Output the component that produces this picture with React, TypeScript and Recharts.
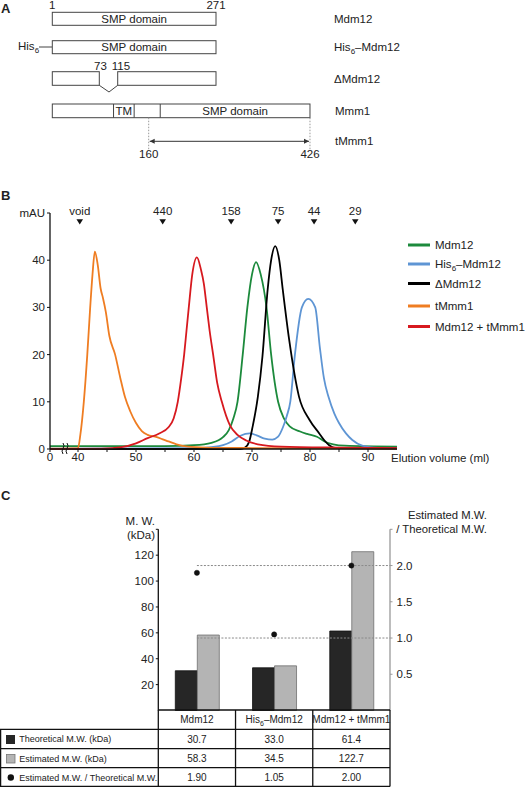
import React from "react";
import {
  LineChart,
  Line,
  XAxis,
  YAxis,
  ReferenceDot,
  ComposedChart,
  Bar,
  ReferenceLine,
} from "recharts";

const FONT = '"Liberation Sans", Arial, Helvetica, sans-serif';
const INK = "#222";

// ---------- B: gel filtration profiles (elution volume in ml, absorbance in mAU) ----------
const mdm12Ml = [0, 40, 55, 60, 63, 65, 66, 66.8, 67.5, 68.4, 69.2, 70, 70.7, 71.5, 72.5, 73.3, 74.5, 75.5, 76.5, 78.3, 79.5, 81.2, 82.5, 84, 86, 95];
const mdm12Au = [0.6, 0.6, 0.6, 0.8, 1.3, 2.5, 4, 6.5, 10, 20, 30, 37, 39.6, 37, 30, 20, 10, 6.5, 4.8, 3.7, 3.2, 2.6, 1.6, 1, 0.7, 0.5];

const hisMl = [0, 40, 60, 63, 65, 66.5, 68, 69.6, 70.8, 72.2, 73.5, 74.5, 75.3, 76, 76.6, 77.4, 78.6, 79.7, 80.9, 81.7, 82.4, 83.2, 84.2, 85, 86.2, 87.3, 89, 91, 95];
const hisAu = [0.1, 0.1, 0.2, 0.4, 0.8, 1.6, 2.8, 3.3, 2.9, 2.2, 2.0, 2.6, 4.5, 7, 10, 20, 30, 31.8, 30, 21.5, 15, 11, 7.5, 5.5, 3.3, 1.9, 0.7, 0.3, 0.2];

const deltaMl = [0, 68, 68.8, 69.5, 70.1, 71, 71.8, 72.7, 73.3, 74, 74.7, 75.3, 76.4, 78.1, 79.9, 81.6, 82.5, 83.3, 84.5, 95];
const deltaAu = [0, 0, 0.3, 1.5, 4.7, 11, 19.6, 33.8, 40, 43, 40, 33.8, 23.2, 11.1, 6.2, 3.3, 1.8, 0.8, 0.2, 0.1];

const tmmm1Ml = [0, 40, 40.4, 41, 41.6, 42.1, 42.5, 42.9, 43.4, 43.9, 44.3, 44.8, 45.4, 46.4, 47.3, 48.1, 49, 50, 51, 52, 53.3, 54.5, 55.6, 57, 59, 62, 70, 95];
const tmmm1Au = [0.1, 0.2, 3, 10, 20, 30, 37, 41.8, 39, 34, 32, 29, 24, 20, 15, 11, 8, 5.5, 3.8, 3, 2.6, 2.1, 1.6, 1, 0.5, 0.3, 0.2, 0.1];

const complexMl = [0, 44, 47.5, 50, 52, 54, 55.6, 56.5, 57.2, 57.8, 58.3, 58.7, 59.1, 59.7, 60.5, 61.2, 61.7, 62.2, 62.7, 63.3, 64, 64.8, 66.2, 67.5, 69, 71, 75, 85, 95];
const complexAu = [0, 0.1, 0.4, 1.2, 2.3, 3.3, 4.6, 6.5, 10, 15, 20, 25, 30, 37, 40.6, 38, 35, 30, 25, 20, 14, 10, 5, 3, 1.8, 1, 0.5, 0.3, 0.2];

const markerMl = [40.3, 54.6, 66.4, 74.5, 80.7, 87.8];
const markerLabels = ["void", "440", "158", "75", "44", "29"];

// the axis is broken between 0 and 40 ml
const X0 = 35.17;
const brk = (ml: number) => (ml >= 40 ? ml : 40 - ((40 - ml) * (40 - X0)) / 40);
const pts = (ml: number[], au: number[]) => ml.map((m, i) => ({ x: brk(m), y: au[i] }));

const series = [
  { name: "Mdm12", color: "#1c8a3c", data: pts(mdm12Ml, mdm12Au) },
  { name: "His6-Mdm12", color: "#5e95d4", data: pts(hisMl, hisAu) },
  { name: "ΔMdm12", color: "#000000", data: pts(deltaMl, deltaAu) },
  { name: "tMmm1", color: "#ef7d22", data: pts(tmmm1Ml, tmmm1Au) },
  { name: "Mdm12 + tMmm1", color: "#d7191f", data: pts(complexMl, complexAu) },
];

const xTicks = [X0, 40, 45, 50, 55, 60, 65, 70, 75, 80, 85, 90];
const yTicks = [0, 10, 20, 30, 40, 50];

// ---------- C: molecular weights ----------
const samples = ["Mdm12", "His6-Mdm12", "Mdm12 + tMmm1"];
const theoretical = [30.7, 33.0, 61.4];
const estimated = [58.3, 34.5, 122.7];
const ratio = [1.9, 1.05, 2.0];
const mwTicks = [20, 40, 60, 80, 100, 120, 140];
const ratioTicks = [0.5, 1.0, 1.5, 2.0, 2.5];
const ratioGuides = [1, 2];

const rows = samples.map((s, i) => ({ name: s, theo: theoretical[i], est: estimated[i], ratio: ratio[i] }));

const DARK = "#262626";
const LIGHT = "#b4b4b4";

const His6 = ({ rest }: { rest: string }) => (
  <>
    <tspan>His</tspan>
    <tspan fontSize="70%" dy={3}>6</tspan>
    <tspan dy={-3}>{rest}</tspan>
  </>
);

const label = (name: string) =>
  name.startsWith("His6") ? <His6 rest={name.slice(4).replace("-", "–")} /> : name;

// ---------- A: domain schematic ----------
const res = (r: number) => 52.3 + (r - 1) * 0.6063;

function PanelA() {
  const box = { fill: "#fff", stroke: "#444", strokeWidth: 1 };
  const t = { fontSize: 11.5, fill: INK };
  return (
    <svg width={531} height={175} style={{ position: "absolute", left: 0, top: 0 }}>
      <text x={1} y={13} fontSize={13} fontWeight="bold" fill={INK}>A</text>
      {/* Mdm12 */}
      <text x={res(1)} y={8.5} textAnchor="middle" {...t}>1</text>
      <text x={res(271)} y={8.5} textAnchor="middle" {...t}>271</text>
      <rect x={res(1)} y={12.3} width={res(271) - res(1)} height={13} {...box} />
      <text x={(res(1) + res(271)) / 2} y={22.8} textAnchor="middle" {...t}>SMP domain</text>
      <text x={334} y={22.8} {...t}>Mdm12</text>
      {/* His6-Mdm12 */}
      <line x1={39} x2={res(1)} y1={47} y2={47} stroke="#444" />
      <text x={18} y={50} {...t}><tspan>His</tspan><tspan fontSize={8} dy={3}>6</tspan></text>
      <rect x={res(1)} y={40.7} width={res(271) - res(1)} height={13} {...box} />
      <text x={(res(1) + res(271)) / 2} y={51.2} textAnchor="middle" {...t}>SMP domain</text>
      <text x={334} y={51.2} {...t}><His6 rest="–Mdm12" /></text>
      {/* ΔMdm12 */}
      <text x={100.5} y={70} textAnchor="middle" {...t}>73</text>
      <text x={121} y={70} textAnchor="middle" {...t}>115</text>
      <rect x={res(1)} y={71.7} width={99.3 - res(1)} height={13.6} {...box} />
      <rect x={117.7} y={71.7} width={res(271) - 117.7} height={13.6} {...box} />
      <polyline points="99.3,85.3 109,92 117.7,85.3" fill="none" stroke="#444" />
      <text x={334} y={82.5} {...t}>ΔMdm12</text>
      {/* Mmm1 */}
      <rect x={res(1)} y={104} width={res(426) - res(1)} height={13.7} {...box} />
      <line x1={res(102)} x2={res(102)} y1={104} y2={117.7} stroke="#444" />
      <line x1={res(136)} x2={res(136)} y1={104} y2={117.7} stroke="#444" />
      <line x1={res(179)} x2={res(179)} y1={104} y2={117.7} stroke="#444" />
      <text x={(res(102) + res(136)) / 2} y={115} textAnchor="middle" {...t}>TM</text>
      <text x={(res(179) + res(426)) / 2} y={115} textAnchor="middle" {...t}>SMP domain</text>
      <text x={335} y={115} {...t}>Mmm1</text>
      {/* tMmm1 */}
      <line x1={res(160)} x2={res(160)} y1={117.7} y2={150} stroke="#999" strokeDasharray="1.5 1.5" />
      <line x1={res(426)} x2={res(426)} y1={117.7} y2={150} stroke="#999" strokeDasharray="1.5 1.5" />
      <line x1={res(160) + 1} x2={res(426) - 1} y1={141.3} y2={141.3} stroke="#333" />
      <path d={`M${res(160) + 1},141.3 l5,-2.5 l0,5 z`} fill="#333" />
      <path d={`M${res(426) - 1},141.3 l-5,-2.5 l0,5 z`} fill="#333" />
      <text x={res(160)} y={158} textAnchor="middle" {...t}>160</text>
      <text x={res(426)} y={158} textAnchor="middle" {...t}>426</text>
      <text x={335} y={145} {...t}>tMmm1</text>
    </svg>
  );
}

const triangle = (txt: string) => (p: any) => (
  <g>
    <path d={`M${p.cx - 3.3},${p.cy - 2.6} L${p.cx + 3.3},${p.cy - 2.6} L${p.cx},${p.cy + 2.6} Z`} fill="#111" />
    <text x={p.cx} y={p.cy - 6.6} textAnchor="middle" fontSize={11.5} fill={INK}>{txt}</text>
  </g>
);

function PanelB() {
  const tick = { fontSize: 11.5, fill: INK, fontFamily: FONT };
  return (
    <>
      <div style={{ position: "absolute", left: 0, top: 180 }}>
        <LineChart width={531} height={300} margin={{ top: 33, right: 134, bottom: 11, left: 20 }}>
          <XAxis
            type="number"
            dataKey="x"
            domain={[X0, 95]}
            ticks={xTicks}
            interval={0}
            allowDataOverflow
            height={20}
            tickSize={3}
            tickMargin={1}
            tick={tick}
            tickFormatter={(v: number) => (v === X0 ? "0" : v % 10 === 0 ? String(v) : "")}
            axisLine={{ stroke: "#111", strokeWidth: 1.3 }}
            tickLine={{ stroke: "#111" }}
          />
          <YAxis
            type="number"
            domain={[0, 50]}
            ticks={yTicks}
            interval={0}
            width={30}
            tickSize={3}
            tickMargin={2}
            tick={tick}
            tickFormatter={(v: number) => (v === 50 ? "mAU" : String(v))}
            axisLine={{ stroke: "#111", strokeWidth: 1.3 }}
            tickLine={{ stroke: "#111" }}
          />
          {series.map((s) => (
            <Line
              key={s.name}
              data={s.data}
              dataKey="y"
              type="monotone"
              stroke={s.color}
              strokeWidth={1.8}
              dot={false}
              activeDot={false}
              isAnimationActive={false}
            />
          ))}
          {markerMl.map((m, i) => (
            <ReferenceDot key={i} x={brk(m)} y={48.1} ifOverflow="visible" shape={triangle(markerLabels[i])} />
          ))}
        </LineChart>
      </div>
      <svg width={531} height={300} style={{ position: "absolute", left: 0, top: 180, pointerEvents: "none" }}>
        <text x={1} y={20} fontSize={13} fontWeight="bold" fill={INK}>B</text>
        {series.map((s, i) => {
          const y = [65, 84, 103.5, 126, 146.5][i];
          return (
            <g key={s.name}>
              <line x1={408} x2={430} y1={y} y2={y} stroke={s.color} strokeWidth={3} />
              <text x={435} y={y + 4} fontSize={11.5} fill={INK}>{label(s.name)}</text>
            </g>
          );
        })}
        <text x={391} y={282.3} fontSize={11.5} fill={INK}>Elution volume (ml)</text>
        {[0, 4].map((o) => (
          <path
            key={o}
            d={`M${63 + o},274 q-2,-3 0,-5.5 q2,-3 0,-5.5`}
            fill="none"
            stroke="#111"
            strokeWidth={1}
          />
        ))}
      </svg>
    </>
  );
}

// dashed guide starting from the centre of the first category to the right axis
const guide = (p: any) => {
  const lo = Math.min(p.x1, p.x2);
  const hi = Math.max(p.x1, p.x2);
  const start = lo + (hi - lo) / (samples.length * 2);
  return <line x1={start} x2={hi} y1={p.y1} y2={p.y2} stroke="#8a8a8a" strokeWidth={1} strokeDasharray="2 1.5" />;
};

function PanelC() {
  const tick = { fontSize: 11.5, fill: INK, fontFamily: FONT };
  const left = 158.3;
  const right = 390;
  const band = (right - left) / samples.length;
  const rowY = [710, 729.3, 748.7, 767.7, 786.5];
  const rowLabels = ["Theoretical M.W. (kDa)", "Estimated M.W. (kDa)", "Estimated M.W. / Theoretical M.W."];
  const rowVals = [theoretical.map((v) => v.toFixed(1)), estimated.map((v) => v.toFixed(1)), ratio.map((v) => v.toFixed(2))];
  const line = { stroke: "#111", strokeWidth: 1.3 };
  return (
    <>
      <div style={{ position: "absolute", left: 0, top: 500 }}>
        <ComposedChart
          width={531}
          height={215}
          data={rows}
          barGap={0}
          margin={{ top: 29.3, right: 101, bottom: 4.5, left: 118.3 }}
        >
          <XAxis dataKey="name" hide />
          <YAxis
            yAxisId="l"
            domain={[0, 140]}
            ticks={mwTicks}
            interval={0}
            width={40}
            tickSize={2.5}
            tickMargin={2}
            tick={tick}
            tickFormatter={(v: number) => (v === 140 ? "" : String(v))}
            axisLine={{ stroke: "#111", strokeWidth: 1.3 }}
            tickLine={{ stroke: "#111" }}
          />
          <YAxis
            yAxisId="r"
            orientation="right"
            domain={[0, 2.5]}
            ticks={ratioTicks}
            interval={0}
            width={40}
            tickSize={2.5}
            tickMargin={4}
            tick={tick}
            tickFormatter={(v: number) => (v === 2.5 ? "" : v.toFixed(1))}
            axisLine={{ stroke: "#999", strokeWidth: 1.3 }}
            tickLine={{ stroke: "#999" }}
          />
          {ratioGuides.map((v) => (
            <ReferenceLine key={v} yAxisId="r" y={v} shape={guide} />
          ))}
          <Bar yAxisId="l" dataKey="theo" barSize={22} fill={DARK} stroke="#111" strokeWidth={0.8} isAnimationActive={false} />
          <Bar yAxisId="l" dataKey="est" barSize={22} fill={LIGHT} stroke="#6f6f6f" strokeWidth={0.8} isAnimationActive={false} />
          <Line
            yAxisId="r"
            dataKey="ratio"
            stroke="none"
            dot={{ r: 2.6, fill: "#111", stroke: "#111", strokeWidth: 0.5 }}
            activeDot={false}
            isAnimationActive={false}
          />
        </ComposedChart>
      </div>
      <svg width={531} height={787} style={{ position: "absolute", left: 0, top: 0, pointerEvents: "none" }}>
        <text x={1} y={500} fontSize={13} fontWeight="bold" fill={INK}>C</text>
        <text x={155} y={524.7} textAnchor="end" fontSize={11.5} fill={INK}>M. W.</text>
        <text x={155} y={539} textAnchor="end" fontSize={11.5} fill={INK}>(kDa)</text>
        <text x={487} y={519} textAnchor="end" fontSize={11.3} fill={INK}>Estimated M.W.</text>
        <text x={487} y={533} textAnchor="end" fontSize={11.3} fill={INK}>/ Theoretical M.W.</text>
        {/* table */}
        <line x1={left} x2={right} y1={rowY[0]} y2={rowY[0]} {...line} />
        {rowY.slice(1).map((y) => (
          <line key={y} x1={0} x2={right} y1={y} y2={y} {...line} />
        ))}
        <line x1={0.6} x2={0.6} y1={rowY[1]} y2={rowY[4]} {...line} />
        {[0, 1, 2, 3].map((k) => (
          <line key={k} x1={left + k * band} x2={left + k * band} y1={rowY[0]} y2={rowY[4]} {...line} />
        ))}
        {samples.map((s, i) => (
          <text key={s} x={left + band * (i + 0.5)} y={723.3} textAnchor="middle" fontSize={10} fill={INK}>
            {label(s)}
          </text>
        ))}
        {rowLabels.map((r, j) => (
          <text key={r} x={19.3} y={rowY[j + 1] + 13} fontSize={9} fill={INK}>{r}</text>
        ))}
        <rect x={6} y={735} width={9} height={9} fill={DARK} />
        <rect x={6.5} y={754.5} width={8.5} height={8.5} fill={LIGHT} stroke="#777" strokeWidth={0.8} />
        <circle cx={10.8} cy={777.5} r={3.2} fill="#111" />
        {rowVals.map((vals, j) =>
          vals.map((v, i) => (
            <text key={`${j}-${i}`} x={left + band * (i + 0.5)} y={rowY[j + 1] + 13.3} textAnchor="middle" fontSize={10} fill={INK}>
              {v}
            </text>
          ))
        )}
      </svg>
    </>
  );
}

export default function App() {
  return (
    <div style={{ position: "absolute", left: 0, top: 0, width: 531, height: 787, background: "#fff", fontFamily: FONT, overflow: "hidden" }}>
      <PanelA />
      <PanelB />
      <PanelC />
    </div>
  );
}
